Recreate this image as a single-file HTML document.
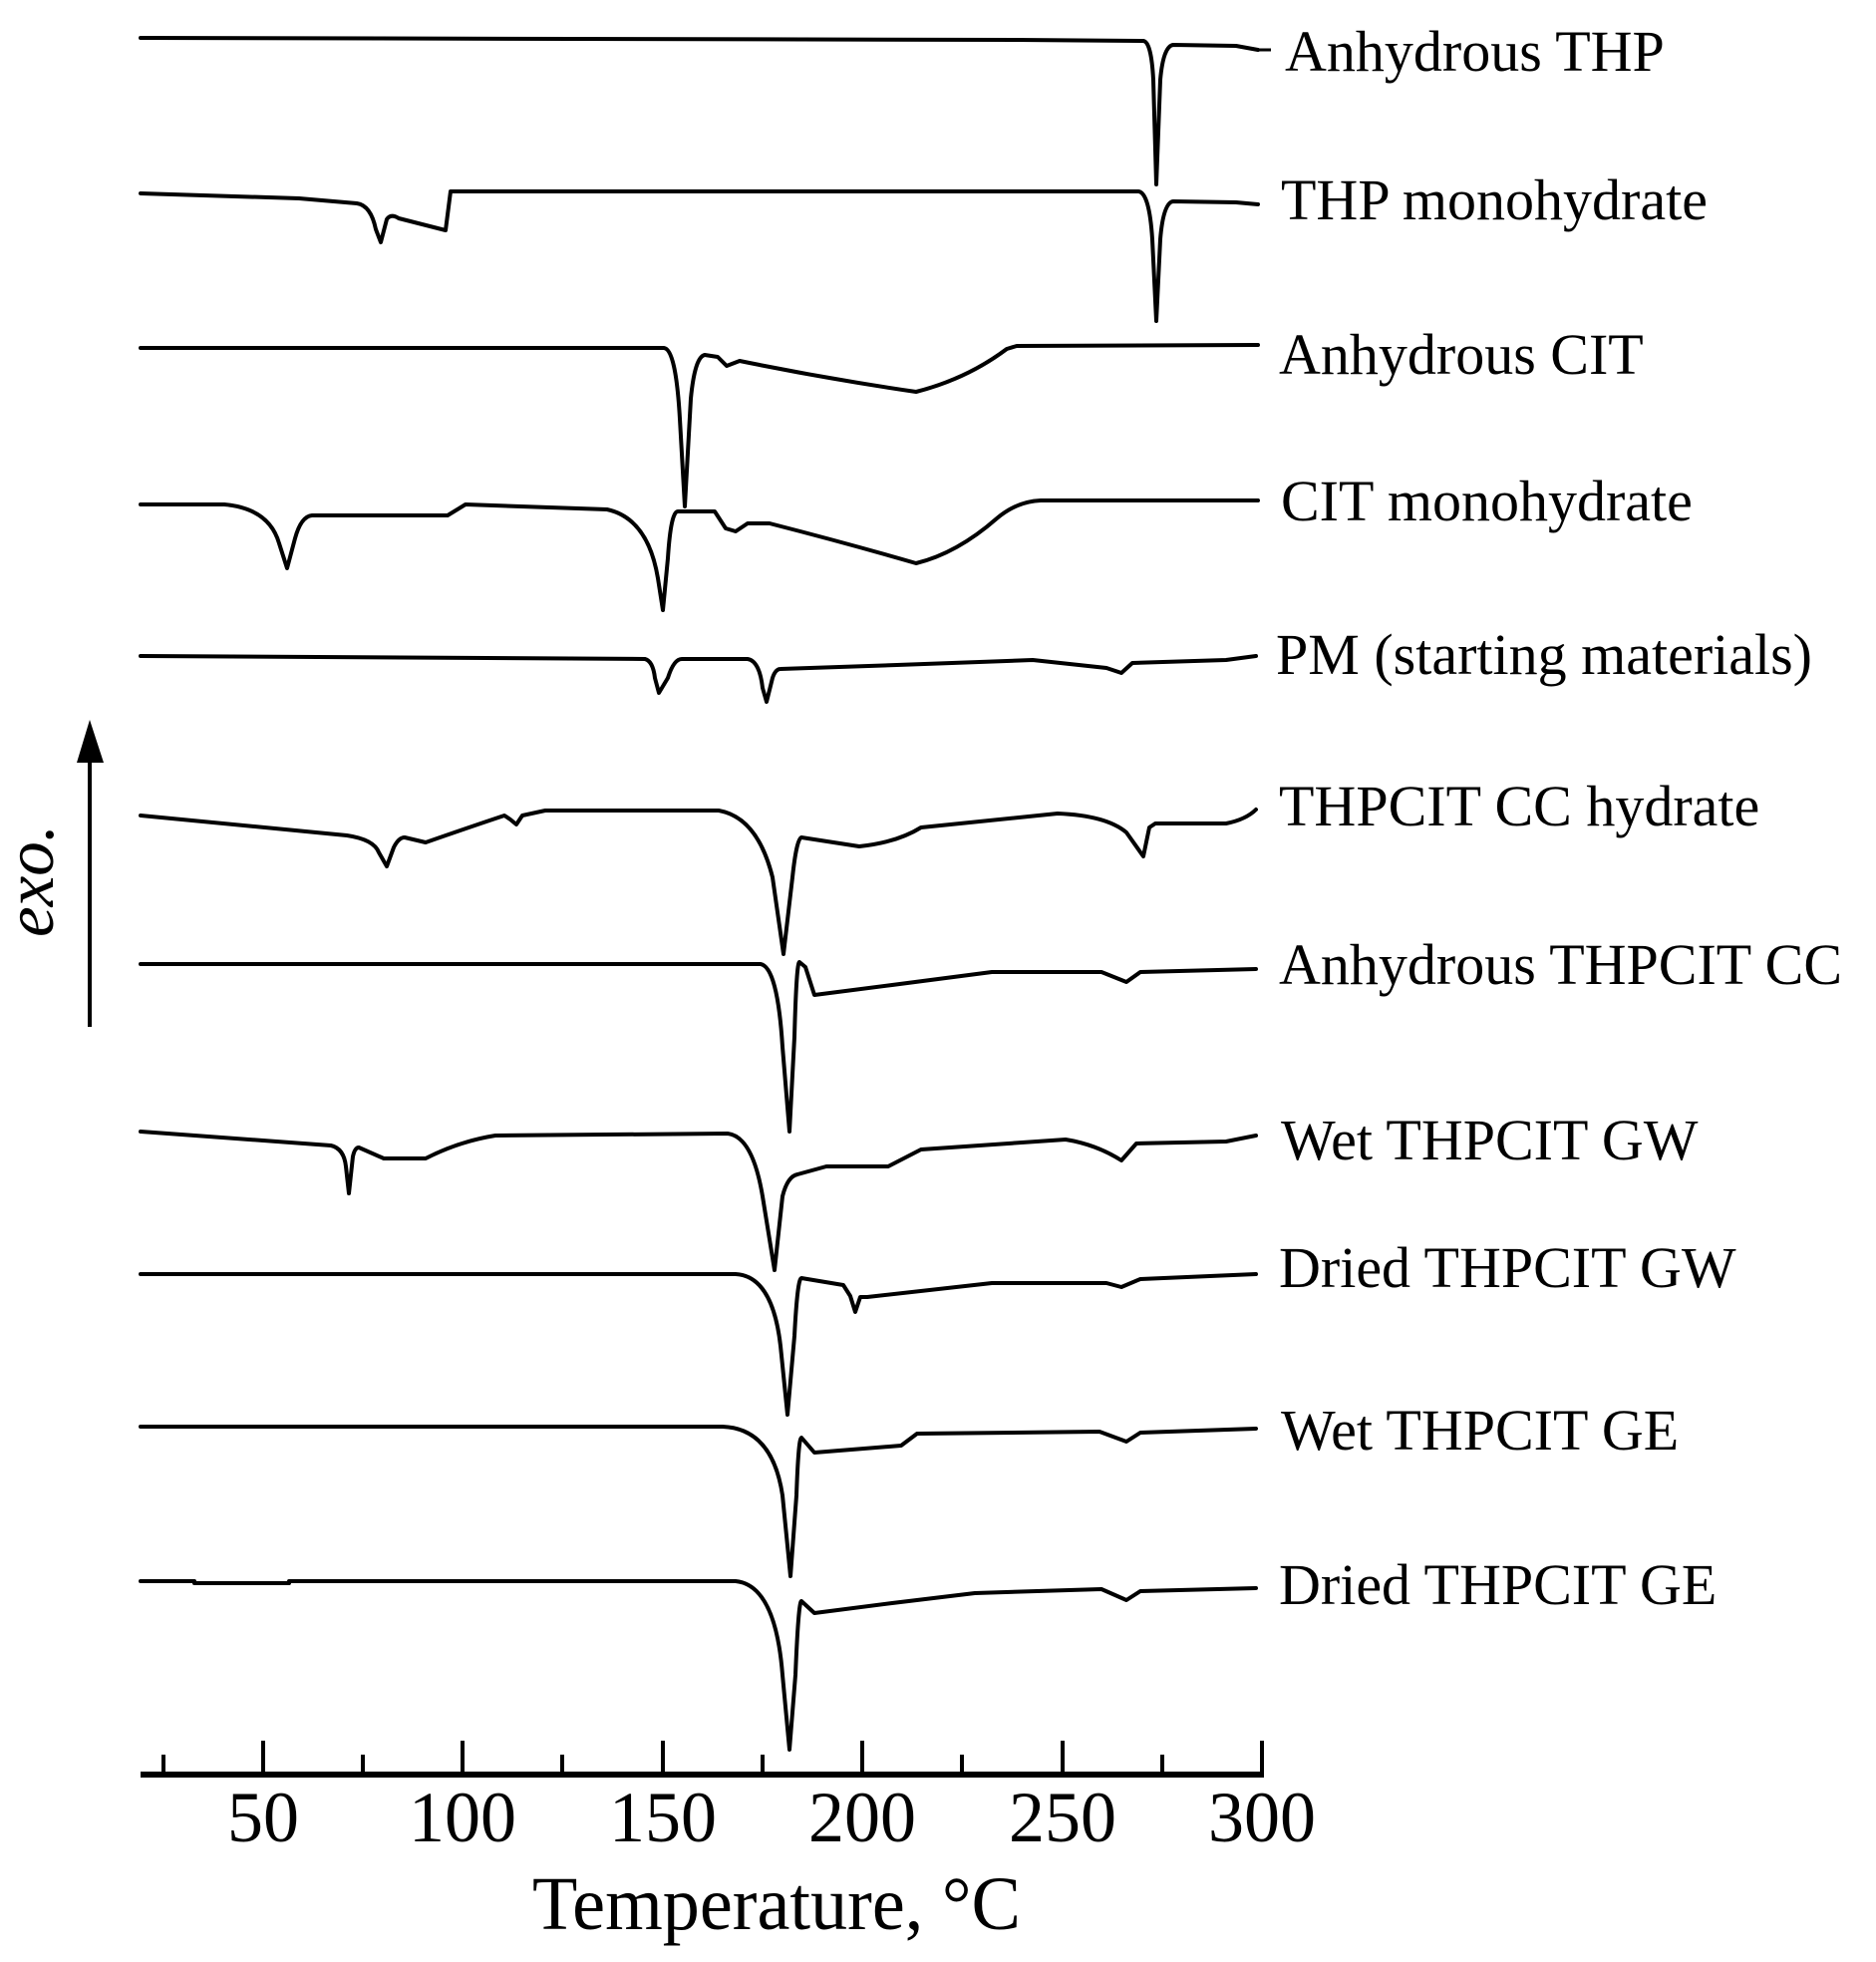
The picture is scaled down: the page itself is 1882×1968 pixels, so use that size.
<!DOCTYPE html>
<html><head><meta charset="utf-8"><style>
html,body{margin:0;padding:0;background:#fff;}
svg{display:block;}
text{font-family:"Liberation Serif",serif;fill:#000;}
</style></head><body>
<svg width="1882" height="1968" viewBox="0 0 1882 1968" xmlns="http://www.w3.org/2000/svg">
<rect width="1882" height="1968" fill="#fff"/>
<g fill="none" stroke="#000" stroke-width="4" stroke-linejoin="round" stroke-linecap="round">
<path d="M141,38 L1020,40 L1147,41 Q1155,42 1157,80 L1160,185 L1164,80 Q1167,46 1177,45 L1240,46 L1262,50"/>
<path d="M141,194 L300,199 L358,204 Q372,206 377,230 L382,243 L388,220 Q392,214 400,219 L447,231 L452,192 L1142,192 Q1153,193 1156,240 L1160,322 L1164,240 Q1167,203 1177,202 L1240,203 L1262,205"/>
<path d="M141,349 L666,349 Q678,350 682,420 L687,508 L693,400 Q697,358 707,356 L720,358 L729,367 L742,362 Q830,380 919,393 Q970,380 1010,350 L1020,347 L1262,346"/>
<path d="M141,506 L225,506 Q270,510 280,545 L288,570 L296,540 Q302,518 313,517 L449,517 L467,506 L609,511 Q650,520 660,580 L665,612 L670,560 Q673,513 680,513 L717,513 L728,530 L738,533 L750,525 L772,525 Q850,545 919,565 Q960,555 1000,520 Q1020,503 1044,502 L1262,502"/>
<path d="M141,658 L647,661 Q655,663 657,680 L661,695 L670,680 Q676,661 684,661 L750,661 Q762,663 765,690 L769,704 L775,680 Q778,671 783,671 L900,667 L1036,662 L1110,670 L1125,675 L1136,665 L1230,662 L1260,658"/>
<path d="M141,818 L348,838 Q375,842 380,855 L388,869 L395,850 Q400,840 406,840 L427,845 Q470,830 506,818 L512,822 L518,827 L524,818 L547,813 L721,813 Q760,820 775,880 L786,957 L795,880 Q799,842 804,840 L862,849 Q900,845 924,830 L1061,816 Q1110,818 1130,835 L1147,859 L1153,830 L1159,826 L1230,826 Q1250,822 1260,812"/>
<path d="M141,967 L763,967 Q780,970 785,1050 L792,1135 L797,1040 Q799,965 802,965 L808,970 L817,998 L895,988 L995,975 L1105,975 L1130,985 L1144,975 L1260,972"/>
<path d="M141,1135 L332,1149 Q345,1152 347,1170 L350,1197 L354,1160 Q356,1151 360,1151 L385,1162 L427,1162 Q460,1145 497,1139 L730,1137 Q755,1140 765,1200 L777,1274 L785,1200 Q790,1180 800,1178 L829,1170 L891,1170 L924,1153 L1069,1143 Q1100,1148 1125,1164 L1140,1147 L1230,1145 L1260,1139"/>
<path d="M141,1278 L738,1278 Q775,1280 783,1350 L790,1419 L797,1340 Q800,1282 804,1282 L846,1289 L853,1300 L858,1316 L863,1301 L870,1301 L995,1287 L1110,1287 L1125,1291 L1144,1283 L1260,1278"/>
<path d="M141,1431 L725,1431 Q775,1433 785,1500 L793,1581 L799,1500 Q801,1442 804,1442 L817,1457 L904,1450 L920,1438 L1103,1436 L1130,1446 L1144,1437 L1260,1433"/>
<path d="M141,1586 L195,1586 L195,1588 L290,1588 L290,1586 L738,1586 Q778,1590 785,1680 L792,1755 L798,1680 Q801,1606 804,1606 L817,1618 L895,1608 L978,1598 L1105,1594 L1130,1605 L1144,1596 L1260,1593"/>
</g>
<g stroke="#000" stroke-width="4">
<line x1="141" y1="1780" x2="1268" y2="1780" stroke-width="6"/>
<line x1="264" y1="1746" x2="264" y2="1780"/><line x1="464" y1="1746" x2="464" y2="1780"/>
<line x1="665" y1="1746" x2="665" y2="1780"/><line x1="865" y1="1746" x2="865" y2="1780"/>
<line x1="1066" y1="1746" x2="1066" y2="1780"/><line x1="1266" y1="1746" x2="1266" y2="1780"/>
<line x1="164" y1="1760" x2="164" y2="1780"/><line x1="364" y1="1760" x2="364" y2="1780"/>
<line x1="564" y1="1760" x2="564" y2="1780"/><line x1="765" y1="1760" x2="765" y2="1780"/>
<line x1="965" y1="1760" x2="965" y2="1780"/><line x1="1166" y1="1760" x2="1166" y2="1780"/>
<line x1="90" y1="760" x2="90" y2="1030"/>
</g>
<polygon points="90,722 77,765 104,765" fill="#000"/>
<g font-size="72" text-anchor="middle">
<text x="264" y="1847">50</text><text x="464" y="1847">100</text><text x="665" y="1847">150</text>
<text x="865" y="1847">200</text><text x="1066" y="1847">250</text><text x="1266" y="1847">300</text>
</g>
<text x="534" y="1935" font-size="76" textLength="490" lengthAdjust="spacingAndGlyphs">Temperature, °C</text>
<text transform="translate(53,940) rotate(-90)" font-size="70" font-style="italic" textLength="113" lengthAdjust="spacingAndGlyphs">exo.</text>
<g font-size="58">
<line x1="1262" y1="50" x2="1275" y2="50" stroke="#000" stroke-width="3"/>
<text x="1289" y="71">Anhydrous THP</text>
<text x="1285" y="220">THP monohydrate</text>
<text x="1283" y="375">Anhydrous CIT</text>
<text x="1285" y="522">CIT monohydrate</text>
<text x="1280" y="676">PM (starting materials)</text>
<text x="1283" y="828">THPCIT CC hydrate</text>
<text x="1283" y="987">Anhydrous THPCIT CC</text>
<text x="1285" y="1163">Wet THPCIT GW</text>
<text x="1283" y="1291">Dried THPCIT GW</text>
<text x="1285" y="1454">Wet THPCIT GE</text>
<text x="1283" y="1609">Dried THPCIT GE</text>
</g>
</svg>
</body></html>
